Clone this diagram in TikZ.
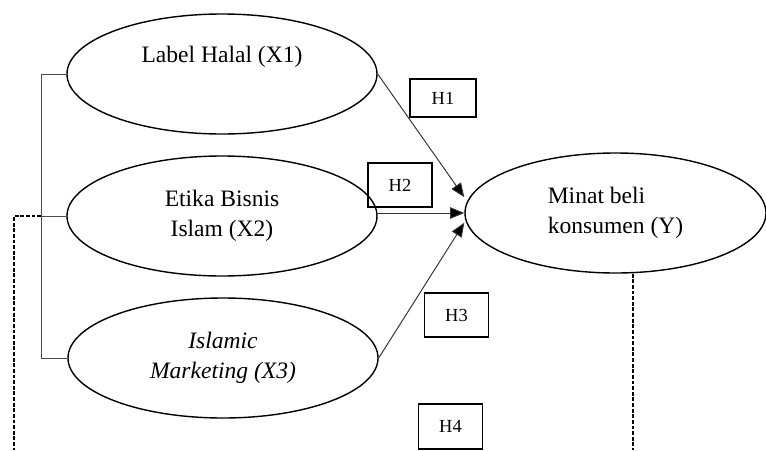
\documentclass[tikz,border=0pt]{standalone}
\usepackage{fontspec}
\setmainfont{Liberation Serif}
\usetikzlibrary{arrows.meta,shapes.geometric}
\newcommand{\varfont}{\fontsize{13.4}{17}\selectfont}
\newcommand{\hypfont}{\fontsize{10.5}{12}\selectfont}
\tikzset{
 var/.style={ellipse,draw=black,line width=.8pt,inner sep=0pt,minimum width=6.2cm,minimum height=2.4cm,font=\varfont,align=center},
 hyp/.style={draw=black,line width=.6pt,inner sep=0pt,minimum width=1.28cm,minimum height=.88cm,font=\hypfont},
 path/.style={-{Triangle[length=8pt,width=6.5pt,fill=black]},draw=black!80,line width=.55pt},
 link/.style={draw=black!70,line width=.5pt},
 moder/.style={draw=black,line width=.9pt,dash pattern=on 2.2pt off 1pt},
}

\begin{document}
\begin{tikzpicture}
\useasboundingbox (0,0) rectangle (15.32,-9);

% variables
\node[var] (X1) at (4.44,-1.48) {Label Halal (X1)\\\strut};
\node[var] (X2) at (4.44,-4.32) {Etika Bisnis\\Islam (X2)};
\node[var] (X3) at (4.46,-7.16) {\textit{Islamic}\\\textit{Marketing (X3)}};
\node[var,minimum width=6.02cm,align=left] (Y) at (12.31,-4.26)
  {Minat beli\\konsumen (Y)};

% hypotheses
\node[hyp,minimum width=1.32cm,minimum height=.76cm] (H1) at (8.86,-1.96) {H1};
\node[hyp] (H2) at (8.00,-3.70) {H2};
\node[hyp] (H3) at (9.13,-6.30) {H3};
\node[hyp,minimum height=.9cm] (H4) at (9.01,-8.53) {H4};

% paths
\draw[path] (X1.east) -- ([yshift=9pt]Y.west);
\draw[path] (Y.west -| X2.east) -- (Y.west);
\draw[path] (X3.east) -- ([yshift=-5.5pt]Y.west);

% left bracket
\coordinate (br) at (0.82,0);
\draw[link] (X1.west) -- (X1.west -| br) -- (X3.west -| br) -- (X3.west);
\draw[link] (X2.west) -- (X2.west -| br);

% dashed lines
\coordinate (dl) at (0.28,-9);
\coordinate (dr) at (12.66,-9);
\draw[moder] (X2.west -| br) -| (dl);
\draw[moder] (dr |- Y.south) -- (dr);
\end{tikzpicture}
\end{document}
